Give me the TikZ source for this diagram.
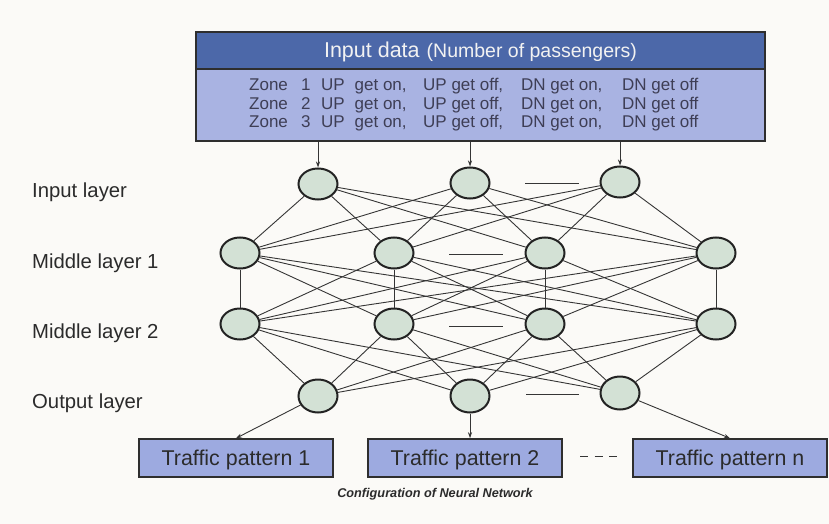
\documentclass[tikz,border=0pt]{standalone}
\usepackage{fontspec}
\setmainfont{Liberation Sans}
\usetikzlibrary{shapes.geometric,arrows.meta}

\definecolor{paper}{HTML}{FBFAF7}
\definecolor{hdrfill}{HTML}{4C68A9}
\definecolor{bodyfill}{HTML}{A9B3E2}
\definecolor{tfill}{HTML}{9DAAE0}
\definecolor{nodefill}{HTML}{D3E1D5}
\definecolor{nodeline}{HTML}{232323}
\definecolor{linkc}{HTML}{353535}
\definecolor{boxline}{HTML}{2E2E2E}
\definecolor{hdrtext}{HTML}{F2F2F2}
\definecolor{txt}{HTML}{2B2B2B}
\definecolor{zonetext}{HTML}{3E3E55}

% one row of the passenger table
\newcommand{\zonerow}[1]{%
  \makebox[52pt][l]{Zone}\makebox[20pt][l]{#1}%
  \makebox[33.5pt][l]{UP}\makebox[68.5pt][l]{get on,}%
  \makebox[98pt][l]{UP get off,}\makebox[101pt][l]{DN get on,}DN get off}

\begin{document}
\begin{tikzpicture}[x=1pt,y=-1pt,
  neuron/.style={ellipse, draw=nodeline, line width=2pt, fill=nodefill,
    minimum width=39pt, minimum height=31pt, inner sep=0pt},
  link/.style={draw=linkc, line width=0.9pt},
  arr/.style={draw=linkc, line width=0.9pt, -{Stealth[length=6pt,width=4pt]}},
  gapline/.style={draw=linkc, line width=1pt},
  tbox/.style={rectangle, draw=boxline, line width=1.5pt, fill=tfill,
    minimum width=194pt, minimum height=38pt, inner sep=0pt,
    font=\fontsize{21.4}{24}\selectfont, text=txt,
    text height=15.3pt, text depth=0pt},
  lab/.style={anchor=base west, inner sep=0pt,
    font=\fontsize{20.3}{24}\selectfont, text=txt},
  zrow/.style={anchor=base west, inner sep=0pt,
    font=\fontsize{17}{20}\selectfont, text=zonetext}
]
\fill[paper] (0,0) rectangle (829,524);
\useasboundingbox (0,0) rectangle (829,524);

% input data box
\node[rectangle, draw=boxline, line width=1.5pt, fill=bodyfill,
  minimum width=569pt, minimum height=72pt, inner sep=0pt] (body) at (480.5,105) {};
\node[rectangle, draw=boxline, line width=1.5pt, fill=hdrfill,
  minimum width=569pt, minimum height=37pt, inner sep=0pt,
  text=hdrtext, text height=15pt, text depth=0pt] (hdr) at (480.5,50.5)
  {{\fontsize{21.5}{24}\selectfont Input data}\hspace{7pt}{\fontsize{19.5}{24}\selectfont(Number of passengers)}};
\node[zrow] (z1) at (249,91) {\zonerow{1}};
\node[zrow] (z2) at (249,109.5) {\zonerow{2}};
\node[zrow] (z3) at (249,128) {\zonerow{3}};

% layer labels
\node[lab] (lin)  at (32,197) {Input layer};
\node[lab] (lm1)  at (32,268) {Middle layer 1};
\node[lab] (lm2)  at (32,338) {Middle layer 2};
\node[lab] (lout) at (32,408) {Output layer};

% neurons
\node[neuron] (i1) at (318,184) {};
\node[neuron] (i2) at (470,183) {};
\node[neuron] (i3) at (620,182) {};
\node[neuron] (a1) at (240,253) {};
\node[neuron] (a2) at (394,253) {};
\node[neuron] (a3) at (545,253) {};
\node[neuron] (a4) at (716,253) {};
\node[neuron] (b1) at (240,324) {};
\node[neuron] (b2) at (394,324) {};
\node[neuron] (b3) at (545,324) {};
\node[neuron] (b4) at (716,324) {};
\node[neuron, minimum height=33pt] (o1) at (318,396) {};
\node[neuron, minimum height=33pt] (o2) at (470,396) {};
\node[neuron, minimum height=33pt] (o3) at (620,393) {};

% weights between layers
\foreach \s in {i1,i2,i3}
  \foreach \t in {a1,a2,a3,a4}
    \draw[link] (\s) -- (\t);
\foreach \s in {a1,a2,a3,a4}
  \foreach \t in {b1,b2,b3,b4}
    \draw[link] (\s) -- (\t);
\foreach \s in {b1,b2,b3,b4}
  \foreach \t in {o1,o2,o3}
    \draw[link] (\s) -- (\t);

% omitted neurons
\draw[gapline] (525,183) -- (579,183);
\draw[gapline] (449,254) -- (503,254);
\draw[gapline] (449,326) -- (503,326);
\draw[gapline] (526,394) -- (579,394);

% inputs
\draw[arr] (body.south -| i1) -- (i1);
\draw[arr] (body.south -| i2) -- (i2);
\draw[arr] (body.south -| i3) -- (i3);

% output patterns
\node[tbox] (t1) at (236,458) {Traffic pattern 1};
\node[tbox] (t2) at (465,458) {Traffic pattern 2};
\node[tbox] (tn) at (730,458) {Traffic pattern n};
\draw[gapline, dash pattern=on 8pt off 6.5pt] (580,456) -- (617,456);

\draw[arr] (o1) -- (t1.north);
\draw[arr] (o2) -- (o2 |- t2.north);
\draw[arr] (o3) -- (tn.north);

% caption
\node[anchor=base, inner sep=0pt, text=txt,
  font=\fontsize{12.7}{15}\selectfont\bfseries\itshape] (cap) at (435,497.5)
  {Configuration of Neural Network};
\end{tikzpicture}
\end{document}
